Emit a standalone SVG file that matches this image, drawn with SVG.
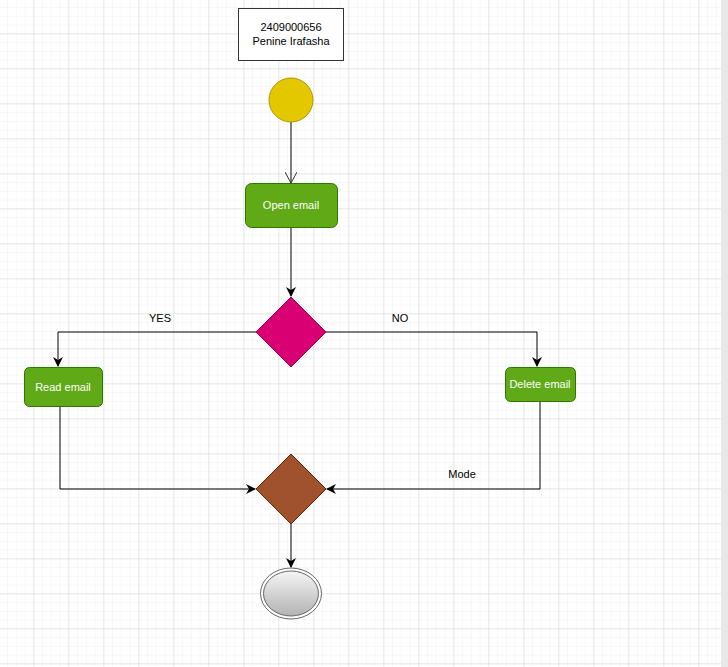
<svg xmlns="http://www.w3.org/2000/svg" width="728" height="667" viewBox="0 0 728 667">
  <defs>
    <pattern id="minor" x="-1.67" y="-1.67" width="8.75" height="8.75" patternUnits="userSpaceOnUse">
      <path d="M0 0H8.75M0 0V8.75" fill="none" stroke="#f0f0f0" stroke-width="1"/>
    </pattern>
    <pattern id="major" x="-1.67" y="-1.67" width="35" height="35" patternUnits="userSpaceOnUse">
      <path d="M0 0H35M0 0V35" fill="none" stroke="#d6d6d6" stroke-width="1"/>
    </pattern>
    <linearGradient id="endGrad" x1="0" y1="0" x2="0" y2="1">
      <stop offset="0" stop-color="#f5f5f5"/>
      <stop offset="1" stop-color="#b3b3b3"/>
    </linearGradient>
    <marker id="arrow" viewBox="0 0 10 10" refX="9" refY="5" markerWidth="10" markerHeight="10" markerUnits="userSpaceOnUse" orient="auto">
      <path d="M0 0L10 5L0 10L3 5Z" fill="#000"/>
    </marker>
    <marker id="openArrow" viewBox="0 0 12 12" refX="11" refY="6" markerWidth="12" markerHeight="12" markerUnits="userSpaceOnUse" orient="auto">
      <path d="M0 0L11 6L0 12" fill="none" stroke="#333" stroke-width="1"/>
    </marker>
  </defs>
  <style>
    .lbl { font-family: "Liberation Sans", Arial, sans-serif; font-size: 11px; fill: #000; }
    .act { fill: #60a917; stroke: #2d7600; stroke-width: 1; }
    .acttxt { font-family: "Liberation Sans", Arial, sans-serif; font-size: 11px; fill: #ffffff; text-anchor: middle; }
    .edge { fill: none; stroke: #000; stroke-width: 1; }
  </style>
  <rect width="728" height="667" fill="#ffffff"/>
  <rect width="721" height="667" fill="url(#minor)"/>
  <rect width="721" height="667" fill="url(#major)"/>
  <rect x="721" y="0" width="7" height="667" fill="#e8e8e8"/>

  <g id="connectors">
    <path class="edge" d="M291 122V183" stroke="#333" marker-end="url(#openArrow)"/>
    <path class="edge" d="M291 228V296" marker-end="url(#arrow)"/>
    <path class="edge" d="M256 332H58V366" marker-end="url(#arrow)"/>
    <path class="edge" d="M326 332H537V366" marker-end="url(#arrow)"/>
    <path class="edge" d="M60 407V489H255" marker-end="url(#arrow)"/>
    <path class="edge" d="M540 402V489H327" marker-end="url(#arrow)"/>
    <path class="edge" d="M291 524V567" marker-end="url(#arrow)"/>
    <text class="lbl" x="160" y="322" text-anchor="middle">YES</text>
    <text class="lbl" x="400" y="322" text-anchor="middle">NO</text>
    <text class="lbl" x="462" y="478" text-anchor="middle">Mode</text>
  </g>

  <g id="title">
    <rect x="238.5" y="8.5" width="105" height="52" fill="#ffffff" stroke="#333" stroke-width="1"/>
    <text class="lbl" x="291" y="31" text-anchor="middle">2409000656</text>
    <text class="lbl" x="291" y="45" text-anchor="middle">Penine Irafasha</text>
  </g>

  <g id="start">
    <circle cx="291" cy="100" r="22" fill="#e3c800" stroke="#b09500" stroke-width="1"/>
  </g>

  <g id="open-email">
    <rect class="act" x="245.5" y="183.5" width="92" height="44" rx="6"/>
    <text class="acttxt" x="291" y="209">Open email</text>
  </g>

  <g id="decision">
    <path d="M291 297L326 332L291 367L256 332Z" fill="#d80073" stroke="#a50040" stroke-width="1"/>
  </g>

  <g id="read-email">
    <rect class="act" x="24.5" y="367.5" width="78" height="39" rx="5"/>
    <text class="acttxt" x="63" y="391">Read email</text>
  </g>

  <g id="delete-email">
    <rect class="act" x="505.5" y="367.5" width="70" height="34" rx="5"/>
    <text class="acttxt" x="540" y="388">Delete email</text>
  </g>

  <g id="merge">
    <path d="M291 454L326 489L291 524L256 489Z" fill="#a0522d" stroke="#6d1f00" stroke-width="1"/>
  </g>

  <g id="end">
    <ellipse cx="291" cy="593.5" rx="30.5" ry="25.5" fill="#ffffff" stroke="#666" stroke-width="1"/>
    <ellipse cx="291" cy="593.5" rx="27.5" ry="22.5" fill="url(#endGrad)" stroke="#666" stroke-width="1"/>
  </g>
</svg>
